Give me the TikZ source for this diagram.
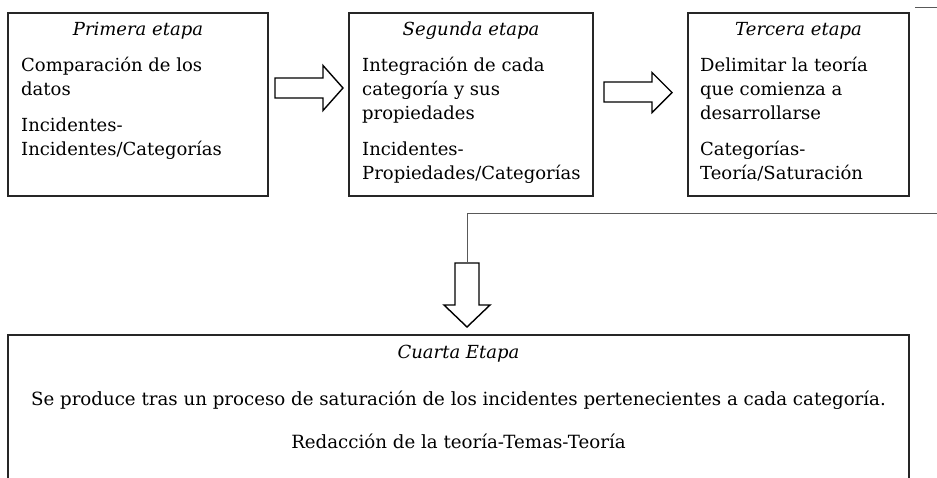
\documentclass[tikz,border=0pt]{standalone}
\usepackage{fontspec}
\setmainfont{DejaVu Serif}
\begin{document}
\begin{tikzpicture}[x=1pt,y=-1pt,
  box/.style={draw=black!85, line width=1.1pt, inner sep=0pt},
  barrow/.style={draw=black, line width=1.4pt, line join=miter},
  conn/.style={draw=black!65, line width=0.8pt},
  body/.style={font=\fontsize{18}{24}\selectfont, inner sep=0pt, anchor=base west},
  wide/.style={font=\fontsize{18.2}{24}\selectfont, inner sep=0pt, anchor=base},
  ttl/.style={font=\fontsize{18}{24}\selectfont\itshape, inner sep=0pt, anchor=base}]
\clip (0,0) rectangle (937,477);
% stage boxes
\node[box, minimum width=260pt, minimum height=183pt] (b1) at (138,104.5) {};
\node[box, minimum width=244pt, minimum height=183pt] (b2) at (471,104.5) {};
\node[box, minimum width=221pt, minimum height=183pt] (b3) at (798.5,104.5) {};
\node[box, minimum width=901pt, minimum height=180pt] (b4) at (458.5,425) {};
% titles
\node[ttl] (h1) at (138,35) {Primera etapa};
\node[ttl] (h2) at (471,35) {Segunda etapa};
\node[ttl] (h3) at (798.5,35) {Tercera etapa};
\node[ttl] (h4) at (458.5,358) {Cuarta Etapa};
% bodies
\node[body] (t1) at (21,71) {\begin{tabular}[t]{@{}l@{}}Comparación de los\\ datos\\[12pt] Incidentes-\\ Incidentes/Categorías\end{tabular}};
\node[body] (t2) at (362,71) {\begin{tabular}[t]{@{}l@{}}Integración de cada\\ categoría y sus\\ propiedades\\[12pt] Incidentes-\\ Propiedades/Categorías\end{tabular}};
\node[body] (t3) at (700,71) {\begin{tabular}[t]{@{}l@{}}Delimitar la teoría\\ que comienza a\\ desarrollarse\\[12pt] Categorías-\\ Teoría/Saturación\end{tabular}};
\node[wide] (t4) at (458.5,405) {Se produce tras un proceso de saturación de los incidentes pertenecientes a cada categoría.};
\node[wide] (t5) at (458.5,448) {Redacción de la teoría-Temas-Teoría};
% block arrows
\draw[barrow] (275,78) -- (323,78) -- (323,65.5) -- (343,88) -- (323,110.5) -- (323,98) -- (275,98) -- cycle;
\draw[barrow] (604,82) -- (652,82) -- (652,72.5) -- (672,92.5) -- (652,112.5) -- (652,102) -- (604,102) -- cycle;
\draw[barrow] (455,263) -- (479,263) -- (479,305) -- (490,305) -- (467,327) -- (444,305) -- (455,305) -- cycle;
% connector lines
\coordinate (c1) at (937,213);
\coordinate (c2) at (467,213);
\coordinate (c3) at (467,263);
\draw[conn] (c1) -- (c2) -- (c3);
\coordinate (d1) at (915,7);
\coordinate (d2) at (937,7);
\draw[conn] (d1) -- (d2);
\end{tikzpicture}
\end{document}
